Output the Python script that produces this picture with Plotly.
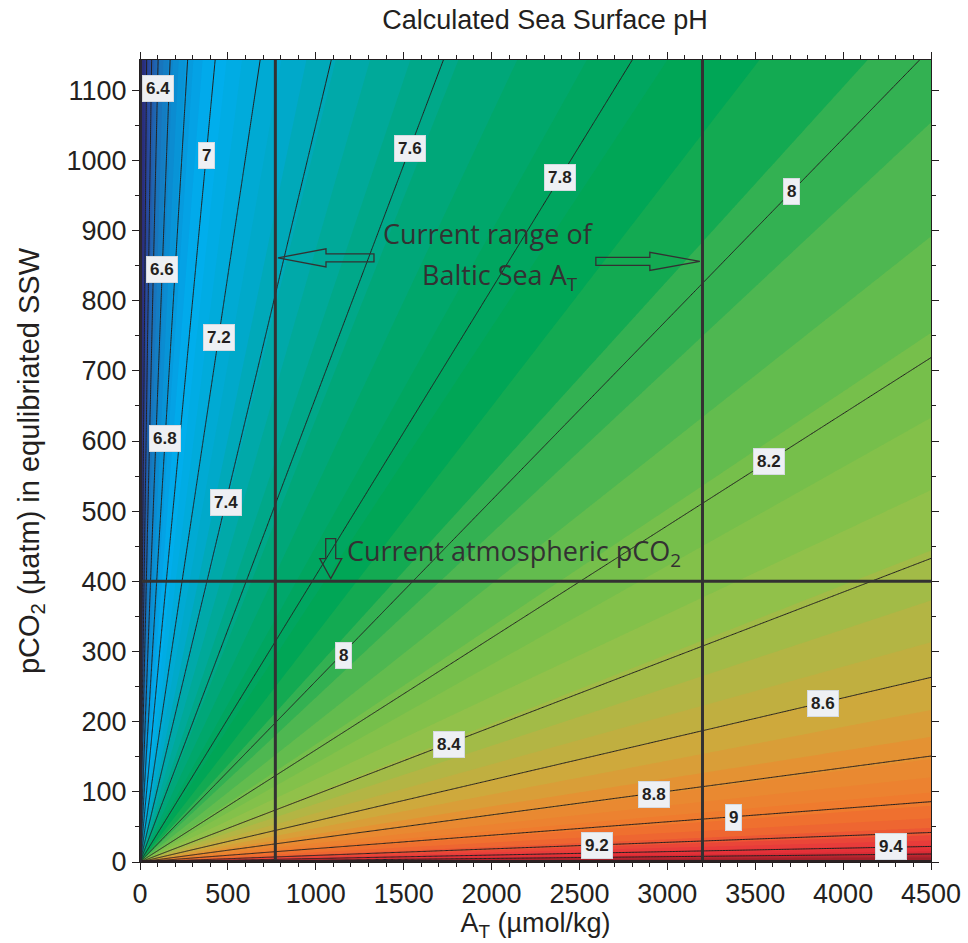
import numpy as np
import plotly.graph_objects as go

# ---- data ----
# pH contour levels and the A_T / pCO2 ratio (umol/kg per uatm) along each line
ph_levels = [5.8, 6.0, 6.2, 6.4, 6.6, 6.8, 7.0, 7.2, 7.4, 7.6, 7.8, 8.0,
             8.2, 8.4, 8.6, 8.8, 9.0, 9.2, 9.4, 9.6, 9.8]
at_over_pco2 = [0.020, 0.033, 0.058, 0.090, 0.150, 0.237, 0.374, 0.598, 0.952,
                1.51, 2.45, 3.88, 6.26, 10.4, 17.1, 29.8, 52.3, 107, 203, 395, 790]

# contour labels (text, A_T, pCO2)
label_text = ['6.4', '7', '7.6', '7.8', '8', '6.6', '7.2', '6.8', '7.4', '8.2',
              '8', '8.6', '8.4', '8.8', '9', '9.2', '9.4']
label_at = [104, 379, 1536, 2389, 3707, 127, 449, 142, 489, 3578,
            1155, 3886, 1760, 2924, 3375, 2600, 4272]
label_pco2 = [1102, 1007, 1017, 975, 955, 845, 748, 603, 512, 571,
              295, 226, 168, 96, 64, 24, 22]

baltic_at_range = [770, 3200]
atm_pco2 = 400

x_ticks = [0, 500, 1000, 1500, 2000, 2500, 3000, 3500, 4000, 4500]
y_ticks = [0, 100, 200, 300, 400, 500, 600, 700, 800, 900, 1000, 1100]
x_max, y_max = 4500, 1143

# colour scale (pH -> colour)
cs_ph = [5.8, 6.1, 6.4, 6.7, 7.0, 7.3, 7.5, 7.7, 7.9, 8.05, 8.2, 8.35, 8.5,
         8.65, 8.8, 9.0, 9.15, 9.3, 9.5, 9.8]
cs_col = ['#2a2d7c', '#29489d', '#1c6db6', '#0a8fd3', '#00aeef', '#00a9cc',
          '#00a99d', '#00a770', '#00a651', '#45b553', '#72bf4b', '#8ec24a',
          '#b3b544', '#cfa83c', '#e78f32', '#ef7a2e', '#ee6331', '#e9403a',
          '#e42f38', '#a0202a']

# ---- grid needed by the contour trace, built from the read ratios ----
xg = x_max * np.linspace(0, 1, 700) ** 1.5
yg = y_max * np.linspace(0, 1, 600) ** 1.5
X, Y = np.meshgrid(xg, yg)
with np.errstate(divide='ignore', invalid='ignore'):
    lr = np.log10(X / Y)
lr = np.nan_to_num(lr, nan=0.0, posinf=10.0, neginf=-10.0)
Z = np.interp(lr, np.log10(at_over_pco2), ph_levels)

zmin, zmax = cs_ph[0], cs_ph[-1]
colorscale = [[(p - zmin) / (zmax - zmin), c] for p, c in zip(cs_ph, cs_col)]

fig = go.Figure()
fig.add_trace(go.Contour(
    x=xg, y=yg, z=Z, colorscale=colorscale, zmin=zmin, zmax=zmax,
    contours=dict(start=5.8, end=9.8, size=0.07, coloring='fill'),
    line=dict(width=0), showscale=False, hoverinfo='skip'))
fig.add_trace(go.Contour(
    x=xg, y=yg, z=Z,
    contours=dict(start=6.0, end=9.6, size=0.2, coloring='none'),
    line=dict(color='#231f20', width=1), showscale=False, hoverinfo='skip'))

# Baltic range and atmospheric pCO2 lines
for a in baltic_at_range:
    fig.add_shape(type='line', xref='x', yref='y', x0=a, x1=a, y0=0, y1=y_max,
                  line=dict(color='#333132', width=3))
fig.add_shape(type='line', xref='x', yref='y', x0=0, x1=x_max, y0=atm_pco2, y1=atm_pco2,
              line=dict(color='#333132', width=3))
# heavy bottom / left frame where the contour lines converge
fig.add_shape(type='line', xref='x', yref='y', x0=0, x1=x_max, y0=0, y1=0,
              line=dict(color='#2b2224', width=4))
fig.add_shape(type='line', xref='x', yref='y', x0=0, x1=0, y0=0, y1=y_max,
              line=dict(color='#2b2830', width=4))

# pixel scale helpers (plot area 791 x 802 px)
px_x = x_max / 791.0
px_y = y_max / 802.0


def h_arrow(tip_x, tip_y, direction, length_px, head_px, shaft_h, head_h):
    d = direction
    L = length_px * px_x
    H = head_px * px_x
    sh = shaft_h / 2 * px_y
    hh = head_h / 2 * px_y
    tail = tip_x - d * L
    neck = tip_x - d * H
    pts = [(tip_x, tip_y), (neck, tip_y + hh), (neck, tip_y + sh), (tail, tip_y + sh),
           (tail, tip_y - sh), (neck, tip_y - sh), (neck, tip_y - hh)]
    return 'M ' + ' L '.join(f'{a:.2f},{b:.2f}' for a, b in pts) + ' Z'


def v_arrow(tip_x, tip_y, length_px, head_px, shaft_w, head_w):
    L = length_px * px_y
    H = head_px * px_y
    sw = shaft_w / 2 * px_x
    hw = head_w / 2 * px_x
    tail = tip_y + L
    neck = tip_y + H
    pts = [(tip_x, tip_y), (tip_x - hw, neck), (tip_x - sw, neck), (tip_x - sw, tail),
           (tip_x + sw, tail), (tip_x + sw, neck), (tip_x + hw, neck)]
    return 'M ' + ' L '.join(f'{a:.2f},{b:.2f}' for a, b in pts) + ' Z'


arrow_line = dict(color='#333132', width=1.3)
fig.add_shape(type='path', xref='x', yref='y', line=arrow_line,
              path=h_arrow(baltic_at_range[0] + 15, 861, -1, 96, 48, 8, 18))
fig.add_shape(type='path', xref='x', yref='y', line=arrow_line,
              path=h_arrow(baltic_at_range[1] - 15, 856, 1, 104, 50, 8, 18))
fig.add_shape(type='path', xref='x', yref='y', line=arrow_line,
              path=v_arrow(1085, atm_pco2 + 4, 40, 20, 10, 22))

txt_font = dict(family='Open Sans, Noto Sans, sans-serif', size=27, color='#333132')
fig.add_annotation(x=1980, y=896, xref='x', yref='y', text='Current range of',
                   showarrow=False, font=txt_font)
fig.add_annotation(x=2050, y=834, xref='x', yref='y', text='Baltic Sea A<sub>T</sub>',
                   showarrow=False, font=txt_font)
fig.add_annotation(x=1165, y=441, xref='x', yref='y', xanchor='left',
                   text='Current atmospheric pCO<sub>2</sub>', showarrow=False, font=txt_font)

# contour labels
for t, a, p in zip(label_text, label_at, label_pco2):
    fig.add_annotation(x=a, y=p, xref='x', yref='y', text=f'<b>{t}</b>', showarrow=False,
                       font=dict(family='Liberation Sans, Arial, sans-serif', size=17,
                                 color='#231f20'),
                       bgcolor='#eef0f4', bordercolor='#d5dae0', borderwidth=1, borderpad=3)

axis_font = dict(family='Liberation Sans, Arial, sans-serif', size=27, color='#231f20')
fig.update_layout(
    width=968, height=943,
    margin=dict(l=140, r=37, t=60, b=81),
    paper_bgcolor='white', plot_bgcolor='white',
    title=dict(text='Calculated Sea Surface pH', x=545 / 968, xanchor='center',
               y=1 - 20 / 943, yanchor='middle',
               font=dict(family='Liberation Sans, Arial, sans-serif', size=27, color='#231f20')),
    xaxis=dict(range=[0, x_max], tickvals=x_ticks, ticks='outside', ticklen=7,
               tickcolor='#231f20', tickfont=axis_font, showgrid=False, zeroline=False,
               showline=True, linecolor='#231f20', linewidth=1.2, mirror='ticks',
               automargin=False,
               minor=dict(dtick=100, ticks='outside', ticklen=4, tickcolor='#231f20'),
               title=dict(text='A<sub>T</sub> (µmol/kg)', font=axis_font, standoff=0)),
    yaxis=dict(range=[0, y_max], tickvals=y_ticks, ticks='outside', ticklen=7,
               tickcolor='#231f20', tickfont=axis_font, showgrid=False, zeroline=False,
               showline=True, linecolor='#231f20', linewidth=1.2, mirror='ticks',
               automargin=False,
               minor=dict(dtick=50, ticks='outside', ticklen=4, tickcolor='#231f20'),
               title=dict(text='pCO<sub>2</sub> (µatm) in equlibriated SSW',
                          font=dict(family='Liberation Sans, Arial, sans-serif', size=29,
                                    color='#231f20'),
                          standoff=18)),
    showlegend=False,
)

fig.write_html('out.html')
